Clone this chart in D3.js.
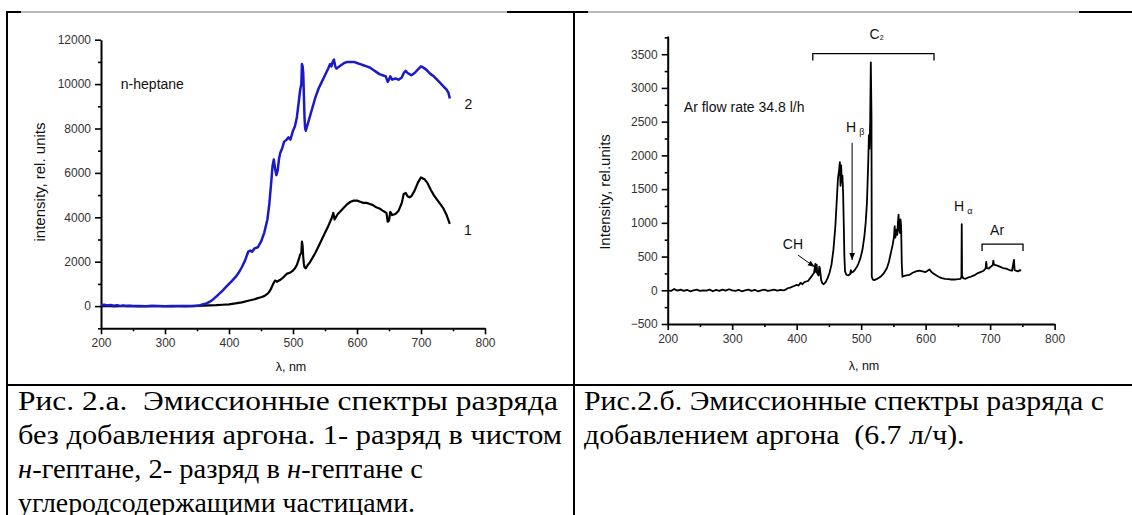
<!DOCTYPE html>
<html>
<head>
<meta charset="utf-8">
<script src="https://cdn.jsdelivr.net/npm/d3@7"></script>
<style>
  body { margin: 0; background: #fff; }
  svg { display: block; }
</style>
</head>
<body>
<svg id="page" width="1132" height="515"></svg>
<script>
// ---- Fig. 2a: emission spectra without argon ----
const heptaneWl = [200,210,220,230,240,250,260,270,280,290,300,310,320,330,340,350,360,370,380,390,400,410,420,430,440,445,450,455,460,463,466,469,472,475,478,481,485,490,495,500,503,506,509,511,513,514,515,516,517,518,520,523,526,530,535,540,545,550,555,558,561,563,565,567,570,575,580,585,590,595,600,605,610,615,620,625,630,635,640,643,646,648,650,652,655,660,665,670,673,676,679,682,685,690,695,700,703,706,710,715,720,725,730,735,740,745];
const heptaneI  = [0,10,-10,0,10,0,-10,0,10,0,0,-10,0,10,0,10,20,30,40,60,80,120,170,240,310,360,400,450,550,650,800,1000,1150,1100,1150,1200,1300,1450,1500,1600,1700,1850,2100,2300,2400,2900,2700,2200,1900,1750,1700,1850,1950,2150,2400,2700,3000,3300,3600,3800,4000,4200,3900,4000,4150,4300,4450,4600,4700,4750,4750,4700,4650,4650,4600,4550,4450,4400,4300,4250,4200,3800,3850,4250,4100,4150,4300,4650,5050,5100,4950,4900,4950,5200,5550,5800,5750,5700,5550,5250,5000,4800,4600,4400,4100,3700];

const carbonWl = [200,205,210,215,220,225,230,235,240,245,250,260,270,280,290,300,310,320,330,340,345,350,355,360,365,370,375,380,385,390,395,400,405,410,415,420,425,430,433,436,440,445,450,455,460,463,466,468,470,472,474,476,478,480,483,486,490,493,496,500,503,506,509,511,513,514,515,516,517,518,519,520,522,525,530,535,540,545,550,555,558,560,562,564,566,568,570,575,580,585,590,595,600,605,610,615,620,625,630,635,640,645,648,650,652,655,660,665,670,673,676,679,682,685,690,695,700,703,706,710,715,720,725,730,735,740,743,745];
const carbonI  = [40,60,30,50,20,40,10,30,0,20,10,0,-10,10,0,-10,10,0,-10,10,0,20,40,80,120,200,300,430,560,700,850,1000,1150,1300,1500,1750,2050,2450,2500,2450,2600,2650,2900,3300,3900,4600,5600,6300,6600,6200,5900,6100,6600,6900,7100,7400,7500,7600,7500,7900,8100,8500,9200,9700,10000,10900,10800,10500,9500,8500,8000,7900,8100,8400,8900,9400,9800,10100,10400,10700,10900,10800,11000,11100,10800,10700,10750,10850,10950,11000,11000,11000,10950,10900,10850,10800,10750,10650,10550,10450,10400,10350,10100,10200,10350,10200,10250,10200,10300,10500,10600,10500,10450,10400,10500,10650,10800,10750,10700,10600,10450,10350,10200,10050,9900,9750,9600,9350];

// ---- Fig. 2b: emission spectrum with argon ----
const argonWl = [200,205,210,215,220,225,230,235,240,245,250,255,260,265,270,275,280,285,290,295,300,305,310,315,320,325,330,335,340,345,350,355,360,365,370,375,380,383,386,390,395,400,403,406,409,412,415,418,421,424,427,429,430,431,432,434,435,436,438,440,442,445,448,451,454,457,460,462,464,466,467,468,469,470,471,472,473,474,475,477,480,483,484,485,487,490,493,496,499,502,505,507,509,510,511,512,513,514,515,516,516.5,518,520,525,530,535,540,543,546,549,551,552,553,555,556,557,558,559,560,561,562,563,564,566,570,575,580,585,590,595,600,603,606,609,612,615,620,625,630,635,640,645,650,654,655.5,656,656.5,658,662,666,670,675,680,685,690,693,694,695,698,701,704,705,706,710,715,720,725,730,734,737,738,740,743,746,748];
const argonI  = [0,-10,20,-5,10,-10,5,-15,0,10,-10,0,-5,10,-15,5,-10,10,-5,15,0,-10,5,-15,0,10,-10,5,-15,0,10,-10,0,10,-5,5,0,10,30,40,60,80,70,110,90,120,130,140,180,220,260,390,270,380,250,220,350,330,150,100,90,120,180,260,380,600,950,1300,1650,1800,1900,1550,1850,1600,1700,1450,1000,500,280,230,220,240,300,260,270,300,340,400,480,600,800,1000,1300,1600,1900,2300,2100,2500,3380,2600,200,160,150,170,200,250,330,420,550,680,800,950,780,900,820,1000,1120,900,850,1050,950,400,200,210,220,230,260,280,290,280,270,290,310,270,250,230,200,180,170,165,160,160,165,170,200,980,220,180,170,190,200,220,250,270,290,320,420,330,320,350,370,440,380,370,350,330,320,300,290,450,300,290,280,300,290];

const xMajor = [200,300,400,500,600,700,800];
const xMinor = [250,350,450,550,650,750];
const yMajorA = [0,2000,4000,6000,8000,10000,12000];
const yMinorA = [-1000,1000,3000,5000,7000,9000,11000];
const yMajorB = [-500,0,500,1000,1500,2000,2500,3000,3500];
const yMinorB = [-250,250,750,1250,1750,2250,2750,3250,3750];

const captionA = [
  [{t:"Рис. 2.а.  Эмиссионные спектры разряда"}],
  [{t:"без добавления аргона. 1- разряд в чистом"}],
  [{t:"н", i:true},{t:"-гептане, 2- разряд в "},{t:"н", i:true},{t:"-гептане с"}],
  [{t:"углеродсодержащими частицами."}]
];
const captionAWidths = [540, 544, 405, 397];
const captionB = [
  [{t:"Рис.2.б. Эмиссионные спектры разряда с"}],
  [{t:"добавлением аргона  (6.7 л/ч)."}]
];
const captionBWidths = [520, null];

const svg = d3.select("#page");
const SANS = "'Liberation Sans', Arial, sans-serif";
const SERIF = "'Liberation Serif', 'Times New Roman', serif";

// arrow head used by the line annotations
svg.append("defs").append("marker")
  .attr("id", "head").attr("viewBox", "0 0 10 10")
  .attr("refX", 10).attr("refY", 5)
  .attr("markerWidth", 7).attr("markerHeight", 7)
  .attr("orient", "auto-start-reverse")
  .append("path").attr("d", "M0,1 L10,5 L0,9 Z").attr("fill", "#000");

// ---- table frame ----
const frame = svg.append("g");
frame.append("line").attr("x1", 7).attr("x2", 1132).attr("y1", 12).attr("y2", 12)
  .attr("stroke", "#777").attr("stroke-width", 1);
[[6, 21], [507, 588], [1079, 1132]].forEach(([a, b]) =>
  frame.append("line").attr("x1", a).attr("x2", b).attr("y1", 12).attr("y2", 12)
    .attr("stroke", "#000").attr("stroke-width", 2));
frame.append("line").attr("x1", 7).attr("x2", 7).attr("y1", 11).attr("y2", 515)
  .attr("stroke", "#000").attr("stroke-width", 2);
frame.append("line").attr("x1", 574).attr("x2", 574).attr("y1", 11).attr("y2", 515)
  .attr("stroke", "#000").attr("stroke-width", 2);
frame.append("line").attr("x1", 7).attr("x2", 1132).attr("y1", 385).attr("y2", 385)
  .attr("stroke", "#000").attr("stroke-width", 2);

// ---- shared axis drawing ----
function drawAxes(g, x, y, yMajor, yMinor, yFormat) {
  g.append("g").attr("transform", `translate(0,${y.range()[0]})`)
    .call(d3.axisBottom(x).tickValues(xMajor).tickSize(6).tickSizeOuter(0).tickPadding(4));
  g.append("g").attr("transform", `translate(0,${y.range()[0]})`)
    .call(d3.axisBottom(x).tickValues(xMinor).tickSize(3).tickSizeOuter(0).tickFormat(""))
    .call(s => s.select(".domain").remove());
  g.append("g").attr("transform", `translate(${x.range()[0]},0)`)
    .call(d3.axisLeft(y).tickValues(yMajor).tickSize(6).tickSizeOuter(0).tickPadding(4).tickFormat(yFormat));
  g.append("g").attr("transform", `translate(${x.range()[0]},0)`)
    .call(d3.axisLeft(y).tickValues(yMinor).tickSize(3).tickSizeOuter(0).tickFormat(""))
    .call(s => s.select(".domain").remove());
  g.selectAll(".domain").attr("stroke", "#000").attr("stroke-width", 2);
  g.selectAll(".tick line").attr("stroke", "#000").attr("stroke-width", 1.6);
  g.selectAll(".tick text").attr("font-family", SANS).attr("font-size", 12).attr("fill", "#333");
}

function spectrum(g, x, y, wl, vals, color, width) {
  const line = d3.line().x(d => x(d[0])).y(d => y(d[1]));
  g.append("path").datum(d3.zip(wl, vals))
    .attr("d", line).attr("fill", "none")
    .attr("stroke", color).attr("stroke-width", width)
    .attr("stroke-linejoin", "round");
}

function text(g, px, py, str, size, anchor) {
  return g.append("text").attr("x", px).attr("y", py)
    .attr("font-family", SANS).attr("font-size", size)
    .attr("text-anchor", anchor || "start").attr("dominant-baseline", "middle")
    .attr("fill", "#111").text(str);
}

// ---- Fig. 2a ----
const gA = svg.append("g");
const xA = d3.scaleLinear().domain([200, 800]).range([101, 485]);
const yA = d3.scaleLinear().domain([-1000, 12000]).range([328.3, 39.7]);
drawAxes(gA, xA, yA, yMajorA, yMinorA, d3.format("d"));
spectrum(gA, xA, yA, heptaneWl, heptaneI, "#000", 2.2);
spectrum(gA, xA, yA, carbonWl, carbonI, "#1a1ac8", 2.5);
text(gA, xA(231), yA(9950), "n-heptane", 14);
text(gA, xA(768), yA(9050), "2", 14);
text(gA, xA(767), yA(3380), "1", 14);
text(gA, 0, 0, "intensity, rel. units", 15, "middle")
  .attr("transform", `translate(41,182) rotate(-90)`);
text(gA, 291, 368, "λ, nm", 12.5, "middle");

// ---- Fig. 2b ----
const gB = svg.append("g");
const xB = d3.scaleLinear().domain([200, 800]).range([667.7, 1054.6]);
const yB = d3.scaleLinear().domain([-500, 3770]).range([324, 36]);
drawAxes(gB, xB, yB, yMajorB, yMinorB, d3.format("d"));
spectrum(gB, xB, yB, argonWl, argonI, "#000", 1.8);

text(gB, 0, 0, "Intensity, rel.units", 15, "middle")
  .attr("transform", `translate(606,192) rotate(-90)`);
text(gB, 864, 367, "λ, nm", 12.5, "middle");
text(gB, xB(225), yB(2700), "Ar flow rate 34.8 l/h", 14);

// band brackets
const bracket = (g, a, b, v, drop) => {
  const y0 = yB(v), y1 = y0 + drop;
  g.append("path")
    .attr("d", `M${xB(a)},${y1}V${y0}H${xB(b)}V${y1}`)
    .attr("fill", "none").attr("stroke", "#000").attr("stroke-width", 1.3);
};
bracket(gB, 425, 613, 3510, 7);
const c2 = text(gB, xB(524), 35, "C", 14, "middle");
c2.append("tspan").attr("font-size", 7).attr("dy", 3).text("2");

// Hβ marker
const hb = text(gB, xB(486) - 6, yB(2404), "H", 14);
hb.append("tspan").attr("font-size", 9).attr("dx", 3).attr("dy", 5).text("β");
gB.append("line").attr("x1", xB(486)).attr("x2", xB(486))
  .attr("y1", yB(2186)).attr("y2", yB(448))
  .attr("stroke", "#000").attr("stroke-width", 1).attr("marker-end", "url(#head)");

// CH marker
text(gB, xB(378.5), yB(670), "CH", 14);
gB.append("line").attr("x1", xB(402)).attr("y1", yB(522))
  .attr("x2", xB(428)).attr("y2", yB(344))
  .attr("stroke", "#000").attr("stroke-width", 1).attr("marker-end", "url(#head)");

// Hα marker
const ha = text(gB, xB(644), yB(1233), "H", 14);
ha.append("tspan").attr("font-size", 9).attr("dx", 3).attr("dy", 5).text("α");

// Ar lines bracket
text(gB, xB(700), yB(878), "Ar", 14);
bracket(gB, 687.5, 751, 685, 7);

// ---- captions, each line fitted to its width in the column ----
function caption(x0, lines, widths, y0, pitch) {
  let stretch = 1;
  lines.forEach((parts, i) => {
    const t = svg.append("text").attr("x", x0).attr("y", y0 + i * pitch)
      .attr("font-family", SERIF).attr("font-size", 27).attr("fill", "#000")
      .style("white-space", "pre");
    parts.forEach(p => t.append("tspan").attr("font-style", p.i ? "italic" : null).text(p.t));
    const natural = t.node().getComputedTextLength();
    if (widths[i]) stretch = widths[i] / natural;
    t.attr("textLength", natural * stretch).attr("lengthAdjust", "spacingAndGlyphs");
  });
}
caption(18, captionA, captionAWidths, 410, 34);
caption(584, captionB, captionBWidths, 410, 34);
</script>
</body>
</html>
